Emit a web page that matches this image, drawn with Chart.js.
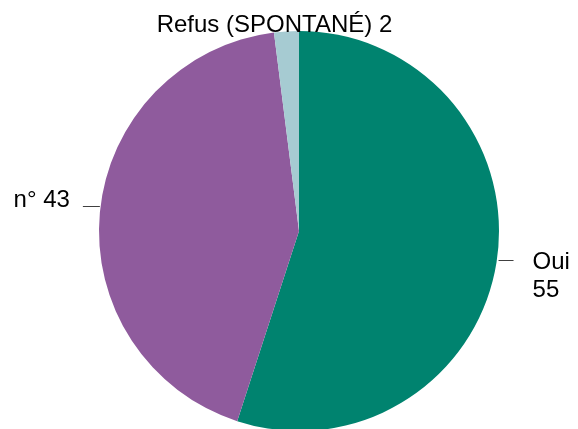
<!DOCTYPE html>
<html lang="fr">
<head>
<meta charset="UTF-8">
<title>Pie</title>
<script src="https://cdn.jsdelivr.net/npm/chart.js"></script>
<style>
  html, body { margin: 0; padding: 0; background: #fff; overflow: hidden; }
  #wrap { position: relative; width: 578px; height: 460px; }
</style>
</head>
<body>
<div id="wrap">
  <canvas id="pieChart" width="578" height="460"></canvas>
</div>

<script>
// Data
const labels = ['Oui', 'n°', 'Refus (SPONTANÉ)'];
const values = [55, 43, 2];
const colors = ['#00836f', '#8f5b9d', '#a6cbd2'];

// Draws the outside labels with short leader lines
const outsideLabels = {
  id: 'outsideLabels',
  afterDraw(chart) {
    const ctx = chart.ctx;
    const meta = chart.getDatasetMeta(0);
    ctx.save();
    ctx.font = '24px "Liberation Sans", Arial, sans-serif';
    ctx.fillStyle = '#000';
    ctx.strokeStyle = '#404040';
    ctx.lineWidth = 1;
    ctx.textBaseline = 'alphabetic';
    meta.data.forEach((arc, i) => {
      const p = arc.getProps(['x', 'y', 'startAngle', 'endAngle', 'outerRadius'], true);
      const mid = (p.startAngle + p.endAngle) / 2;
      const ex = p.x + Math.cos(mid) * p.outerRadius;
      const ey = p.y + Math.sin(mid) * p.outerRadius;
      if (i === 0) {
        ctx.beginPath();
        ctx.moveTo(ex + 2, Math.round(ey - 2) + 0.5);
        ctx.lineTo(ex + 17, Math.round(ey - 2) + 0.5);
        ctx.stroke();
        ctx.textAlign = 'left';
        ctx.fillText(labels[i], ex + 36, ey + 7);
        ctx.fillText(String(values[i]), ex + 36, ey + 35);
      } else if (i === 1) {
        ctx.beginPath();
        ctx.moveTo(ex, Math.round(ey - 6) + 0.5);
        ctx.lineTo(ex - 17, Math.round(ey - 6) + 0.5);
        ctx.stroke();
        ctx.textAlign = 'right';
        ctx.fillText(labels[i] + ' ' + values[i], ex - 30, ey - 5);
      } else {
        ctx.textAlign = 'center';
        ctx.fillText(labels[i] + ' ' + values[i], ex - 12, ey + 0.5);
      }
    });
    ctx.restore();
  }
};

const ctx = document.getElementById('pieChart').getContext('2d');
new Chart(ctx, {
  type: 'pie',
  data: {
    labels: labels,
    datasets: [{
      data: values,
      backgroundColor: colors,
      borderWidth: 0
    }]
  },
  options: {
    responsive: false,
    animation: false,
    layout: { padding: { top: 31, bottom: 29, left: 20, right: 0 } },
    plugins: {
      legend: { display: false },
      tooltip: { enabled: false }
    }
  },
  plugins: [outsideLabels]
});
</script>
</body>
</html>
